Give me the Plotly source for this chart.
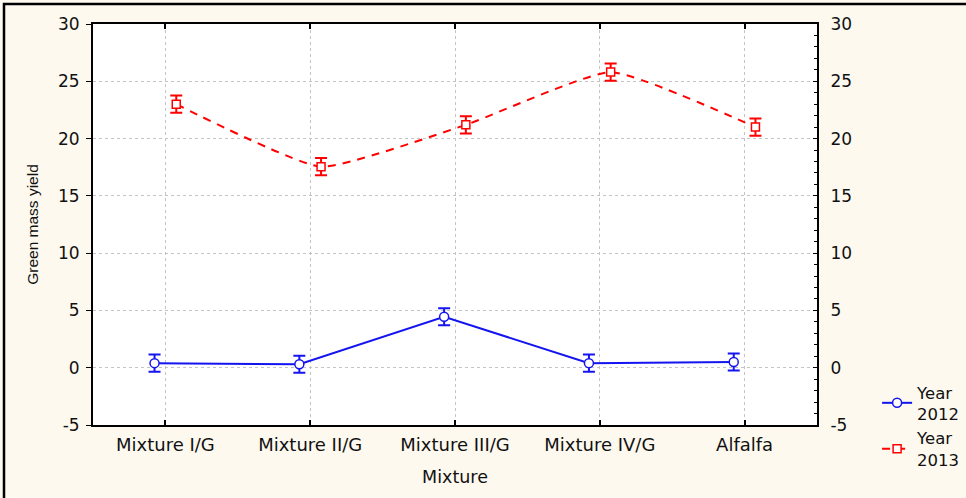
import plotly.graph_objects as go

categories = ["Mixture I/G", "Mixture II/G", "Mixture III/G", "Mixture IV/G", "Alfalfa"]
yield_2012 = [0.4, 0.3, 4.45, 0.4, 0.5]
err_2012 = [0.75, 0.75, 0.75, 0.75, 0.75]
yield_2013 = [23.0, 17.55, 21.2, 25.8, 21.0]
err_2013 = [0.75, 0.75, 0.75, 0.75, 0.75]
y_ticks = [-5, 0, 5, 10, 15, 20, 25, 30]
y_tick_labels = ["-5", "0", "5", "10", "15", "20", "25", "30"]

WIDE = "DejaVu Sans, Verdana, sans-serif"
NARROW = "Liberation Sans, Arial, sans-serif"
BLUE = "#1414F0"
RED = "#FF0000"
INK = "#111111"

fig = go.Figure()
fig.add_trace(go.Scatter(
    x=categories, y=yield_2012, name="Year<br>2012",
    mode="lines+markers",
    line=dict(color=BLUE, width=2),
    marker=dict(symbol="circle", size=9, color="white", line=dict(color=BLUE, width=1.5)),
    error_y=dict(type="data", array=err_2012, color=BLUE, thickness=2, width=6),
))
fig.add_trace(go.Scatter(
    x=categories, y=yield_2013, name="Year<br>2013",
    mode="lines+markers",
    line=dict(color=RED, width=2, dash="8px,7px", shape="spline", smoothing=0.45),
    marker=dict(symbol="square", size=8, color="white", line=dict(color=RED, width=1.5)),
    error_y=dict(type="data", array=err_2013, color=RED, thickness=2, width=6),
))
# invisible carrier trace so the right-hand axis is drawn
fig.add_trace(go.Scatter(
    x=categories, y=yield_2013, yaxis="y2", mode="markers",
    marker=dict(opacity=0), showlegend=False, hoverinfo="skip",
))

fig.update_layout(
    width=966, height=498,
    margin=dict(l=93, r=149, t=24, b=73, autoexpand=False),
    paper_bgcolor="#FDF9EF",
    plot_bgcolor="white",
    scattermode="group",
    scattergap=0.7,
    font=dict(family=WIDE, color=INK),
    xaxis=dict(
        type="category", range=[-0.5, 4.5],
        showgrid=True, gridcolor="#C4C4C4", griddash="dot", gridwidth=1,
        showline=True, linecolor="black", linewidth=2, mirror="ticks",
        ticks="inside", ticklen=5, tickcolor="black", tickwidth=2,
        tickfont=dict(family=WIDE, size=18, color=INK),
        ticklabelstandoff=2,
        title=dict(text="Mixture", font=dict(family=WIDE, size=17.5, color=INK), standoff=17),
    ),
    yaxis=dict(
        range=[-5, 30], tickvals=y_ticks, ticktext=y_tick_labels,
        showgrid=True, gridcolor="#C4C4C4", griddash="dot", gridwidth=1,
        zeroline=False,
        showline=True, linecolor="black", linewidth=2,
        ticks="outside", ticklen=5, tickcolor="black", tickwidth=1,
        tickfont=dict(family=WIDE, size=17, color=INK),
        ticklabelstandoff=3,
        title=dict(text="Green mass yield", font=dict(family=NARROW, size=15.5, color=INK), standoff=16),
    ),
    yaxis2=dict(
        range=[-5, 30], tickvals=y_ticks, ticktext=y_tick_labels,
        overlaying="y", side="right", anchor="x",
        showgrid=False, zeroline=False,
        showline=True, linecolor="black", linewidth=2,
        ticks="inside", ticklen=4, tickcolor="black", tickwidth=1,
        minor=dict(ticks="inside", ticklen=3, dtick=1, tickcolor="black", showgrid=False),
        tickfont=dict(family=WIDE, size=17, color=INK),
        ticklabelstandoff=8,
    ),
    legend=dict(
        x=1.083, y=0.125, xanchor="left", yanchor="top",
        bgcolor="rgba(0,0,0,0)", font=dict(family=WIDE, size=16.5, color=INK),
        tracegroupgap=0, itemwidth=30,
    ),
    showlegend=True,
    shapes=[dict(type="rect", xref="paper", yref="paper",
                 x0=(4 - 93) / 724, x1=1 + 152 / 724, y0=-80 / 401, y1=1 + 20 / 401,
                 line=dict(color="black", width=2.5), fillcolor="rgba(0,0,0,0)", layer="below")],
)

fig.write_html(
    "out.html",
    config={"displayModeBar": False},
    post_script="document.body.style.margin='0';document.body.style.overflow='hidden';",
)
